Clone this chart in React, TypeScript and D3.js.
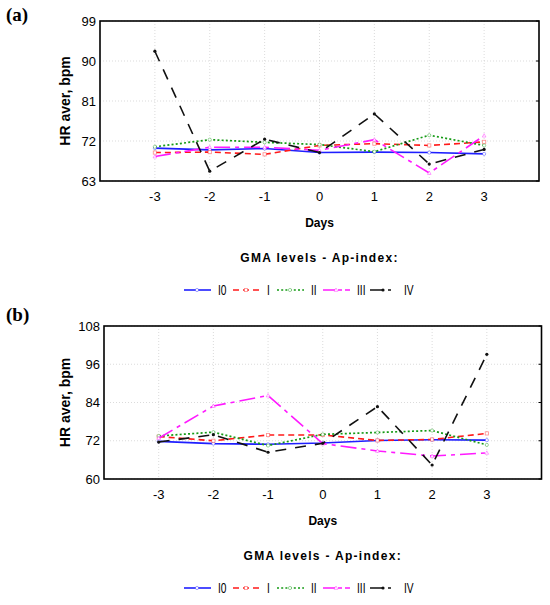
import React from "react";
import * as d3 from "d3";

// x values (days relative to event)
const days = [-3, -2, -1, 0, 1, 2, 3];
const seriesNames = ["I0", "I", "II", "III", "IV"];

// panel (a)
const ticksA = [63, 72, 81, 90, 99];
const a_I0 = [70.4, 70.0, 70.3, 69.4, 69.5, 69.4, 69.1];
const a_I = [69.4, 69.5, 69.0, 71.0, 71.4, 71.0, 71.8];
const a_II = [70.7, 72.3, 71.7, 71.2, 69.6, 73.3, 71.0];
const a_III = [68.5, 70.6, 70.6, 69.9, 72.3, 64.8, 73.2];
const a_IV = [92.2, 65.2, 72.4, 69.4, 78.1, 66.8, 70.1];

// panel (b)
const ticksB = [60, 72, 84, 96, 108];
const b_I0 = [71.8, 71.1, 70.9, 71.3, 72.1, 72.3, 72.2];
const b_I = [73.3, 72.0, 73.8, 73.8, 72.1, 72.4, 74.3];
const b_II = [73.5, 74.7, 70.5, 74.0, 74.6, 75.2, 70.7];
const b_III = [72.8, 82.9, 86.2, 71.1, 68.8, 67.2, 68.2];
const b_IV = [71.6, 73.9, 68.4, 71.2, 82.7, 64.4, 99.1];

const styles = [
  { color: "#1f1fff", dash: "", width: 1.6, marker: "circle" },
  { color: "#ff1a1a", dash: "6,4", width: 1.6, marker: "square" },
  { color: "#159a15", dash: "2,2.2", width: 1.7, marker: "circle" },
  { color: "#ff1aff", dash: "16,5,4,5", width: 1.6, marker: "triangle" },
  { color: "#111", dash: "11,9", width: 1.6, marker: "dot" },
];

const sans = "'Liberation Sans', Arial, sans-serif";

type PanelProps = {
  label: string;
  top: number;
  ticks: number[];
  series: number[][];
  left: number;
  right: number;
  plotTop: number;
  plotBottom: number;
};

const Marker: React.FC<{ kind: string; x: number; y: number; color: string }> = ({ kind, x, y, color }) => {
  if (kind === "dot") return <circle cx={x} cy={y} r={1.6} fill={color} />;
  if (kind === "square")
    return <rect x={x - 1.6} y={y - 1.6} width={3.2} height={3.2} fill="white" stroke={color} strokeOpacity={0.5} strokeWidth={0.8} />;
  if (kind === "triangle")
    return <path d={`M${x},${y - 2}L${x + 1.8},${y + 1.4}L${x - 1.8},${y + 1.4}Z`} fill="white" stroke={color} strokeOpacity={0.5} strokeWidth={0.8} />;
  return <circle cx={x} cy={y} r={1.6} fill="white" stroke={color} strokeOpacity={0.5} strokeWidth={0.8} />;
};

const Panel: React.FC<PanelProps> = ({ label, top, ticks, series, left, right, plotTop, plotBottom }) => {
  const x = d3.scaleLinear().domain([-4, 4]).range([left, right]);
  const y = d3
    .scaleLinear()
    .domain([ticks[0], ticks[ticks.length - 1]])
    .range([plotBottom, plotTop]);
  const line = d3
    .line<number>()
    .x((_, i) => x(days[i]))
    .y((d) => y(d));
  const cx = (left + right) / 2;
  const legendY = plotBottom + 109;
  const legendX = [184, 233, 277, 323, 370];

  return (
    <g>
      <text x={6} y={top + 21} fontFamily="'Liberation Serif', serif" fontWeight="bold" fontSize={19}>
        {label}
      </text>
      {/* grid */}
      {days.map((d) => (
        <line key={"gx" + d} x1={x(d)} x2={x(d)} y1={plotTop} y2={plotBottom} stroke="#ccc" strokeWidth={0.7} strokeDasharray="1,2" />
      ))}
      {ticks.map((t) => (
        <line key={"gy" + t} x1={left} x2={right} y1={y(t)} y2={y(t)} stroke="#ccc" strokeWidth={0.7} strokeDasharray="1,2" />
      ))}
      {/* inner ticks on right */}
      {ticks.map((t) => (
        <line key={"rt" + t} x1={right - 3} x2={right} y1={y(t)} y2={y(t)} stroke="#000" strokeWidth={1} />
      ))}
      {/* series */}
      {series.map((s, i) => (
        <g key={i}>
          <path d={line(s) || ""} fill="none" stroke={styles[i].color} strokeWidth={styles[i].width} strokeDasharray={styles[i].dash} />
          {s.map((v, j) => (
            <Marker key={j} kind={styles[i].marker} x={x(days[j])} y={y(v)} color={styles[i].color} />
          ))}
        </g>
      ))}
      <rect x={left} y={plotTop} width={right - left} height={plotBottom - plotTop} fill="none" stroke="#000" strokeWidth={1.6} />
      {/* y tick labels */}
      {ticks.map((t) => (
        <text key={"yl" + t} x={left - 4} y={y(t)} dy="0.36em" textAnchor="end" fontFamily={sans} fontSize={13}>
          {t}
        </text>
      ))}
      {days.map((d) => (
        <text key={"xl" + d} x={x(d)} y={plotBottom + 20} textAnchor="middle" fontFamily={sans} fontSize={13}>
          {d}
        </text>
      ))}
      <text
        transform={`translate(70,${(plotTop + plotBottom) / 2}) rotate(-90)`}
        textAnchor="middle"
        fontFamily={sans}
        fontWeight="bold"
        fontSize={14}
      >
        HR aver, bpm
      </text>
      <text x={cx} y={plotBottom + 46} textAnchor="middle" fontFamily={sans} fontWeight="bold" fontSize={12}>
        Days
      </text>
      <text x={cx} y={plotBottom + 81} textAnchor="middle" fontFamily={sans} fontWeight="bold" fontSize={12} letterSpacing={1.3}>
        GMA levels - Ap-index:
      </text>
      {/* legend */}
      {seriesNames.map((n, i) => (
        <g key={n}>
          <line
            x1={legendX[i]}
            x2={legendX[i] + 27}
            y1={legendY}
            y2={legendY}
            stroke={styles[i].color}
            strokeWidth={styles[i].width}
            strokeDasharray={i === 3 ? "12,3,4,3" : i === 4 ? "12,6,3,6" : styles[i].dash}
          />
          <Marker kind={styles[i].marker} x={legendX[i] + 13} y={legendY} color={styles[i].color} />
          <text x={legendX[i] + 34} y={legendY} dy="0.35em" fontFamily={sans} fontSize={12} transform={`translate(${legendX[i] + 34},${legendY}) scale(0.85,1.15) translate(${-(legendX[i] + 34)},${-legendY})`}>
            {n}
          </text>
        </g>
      ))}
    </g>
  );
};

export default function App() {
  return (
    <svg width={550} height={605} style={{ position: "absolute", left: 0, top: 0, background: "#fff" }}>
      <Panel label="(a)" top={0} ticks={ticksA} series={[a_I0, a_I, a_II, a_III, a_IV]} left={100} right={539} plotTop={21} plotBottom={181} />
      <Panel label="(b)" top={300} ticks={ticksB} series={[b_I0, b_I, b_II, b_III, b_IV]} left={104} right={541.5} plotTop={326} plotBottom={479} />
    </svg>
  );
}
